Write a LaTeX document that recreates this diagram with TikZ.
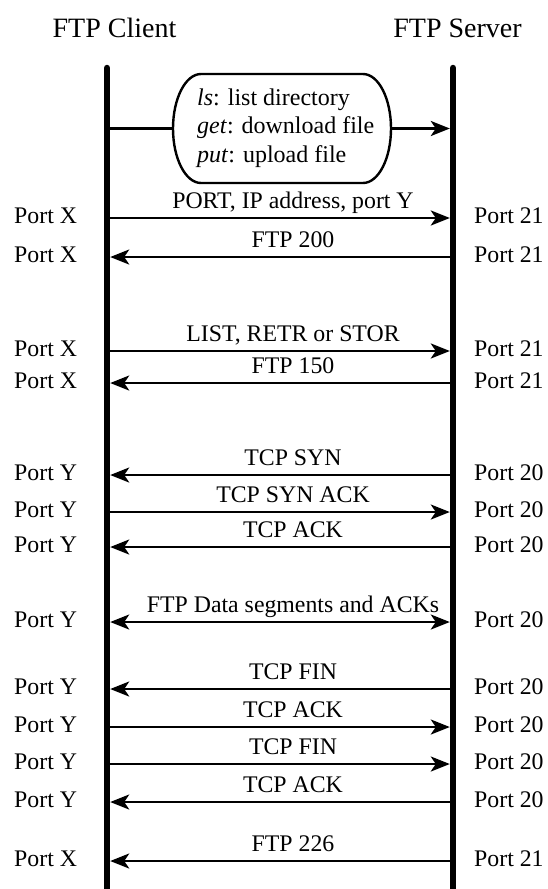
\documentclass[tikz,border=0pt]{standalone}
\usepackage{fontspec}
\setmainfont{Liberation Serif}
\usetikzlibrary{arrows.meta}

% one message row: name, y, arrow direction, label, client port, server port
\newcommand\msgrow[6]{%
  \coordinate (#1c) at (107,#2);
  \coordinate (#1s) at (453,#2);
  \draw[msgline,#3] (#1c) -- (#1s);
  \node[msglabel] (#1m) at (293,#2-10) {#4};
  \node[portlabel,anchor=base west] (#1l) at (14,#2+5.5) {#5};
  \node[portlabel,anchor=base west] (#1r) at (474,#2+5.5) {#6};
}

\begin{document}
\begin{tikzpicture}[x=1pt,y=-1pt,
  >={Stealth[length=19pt,width=15pt,inset=5pt]},
  lifeline/.style={line width=6.5pt,line cap=round},
  msgline/.style={line width=2.6pt,shorten >=3.2pt,shorten <=3.2pt},
  msglabel/.style={anchor=base,inner sep=0pt,font=\fontsize{23.8}{28}\selectfont},
  portlabel/.style={inner sep=0pt,font=\fontsize{23.8}{28}\selectfont},
  title/.style={anchor=base,inner sep=0pt,font=\fontsize{28}{32}\selectfont},
  boxline/.style={line width=2.4pt},
  cmdtext/.style={inner sep=0pt,align=left,font=\fontsize{24}{28.5}\selectfont}]
\fill[white] (0,0) rectangle (547,889);
\useasboundingbox (0,0) rectangle (547,889);
\clip (0,0) rectangle (547,889);

% titles
\node[title] (client) at (114.5,37) {FTP Client};
\node[title] (server) at (457.5,37) {FTP Server};

% lifelines
\coordinate (cTop) at (107,68);
\coordinate (cBot) at (107,900);
\coordinate (sTop) at (453,68);
\coordinate (sBot) at (453,900);
\draw[lifeline] (cTop) -- (cBot);
\draw[lifeline] (sTop) -- (sBot);

% user command box with half-ellipse ends
\node[cmdtext,anchor=north west] (cmd) at (197,88.5) {\textit{ls}: list directory\\\textit{get}: download file\\\textit{put}: upload file};
\draw[boxline] (201,74) -- (363,74)
  arc[start angle=-90,end angle=90,x radius=28,y radius=54.5]
  -- (201,183)
  arc[start angle=90,end angle=270,x radius=28,y radius=54.5] -- cycle;
\coordinate (cmdw) at (173,128.5);
\coordinate (cmde) at (391,128.5);
\coordinate (cmdc) at (107,128.5);
\coordinate (cmds) at (453,128.5);
\draw[line width=2.6pt,shorten <=3.2pt] (cmdc) -- (cmdw);
\draw[msgline,->,shorten <=0pt] (cmde) -- (cmds);

% control connection
\msgrow{port}{218}{->}{PORT, IP address, port Y}{Port X}{Port 21}
\msgrow{ok}{257}{<-}{FTP 200}{Port X}{Port 21}
\msgrow{list}{351}{->}{LIST, RETR or STOR}{Port X}{Port 21}
\msgrow{open}{383}{<-}{FTP 150}{Port X}{Port 21}

% data connection setup
\msgrow{syn}{475}{<-}{TCP SYN}{Port Y}{Port 20}
\msgrow{synack}{512}{->}{TCP SYN ACK}{Port Y}{Port 20}
\msgrow{ack}{547}{<-}{TCP ACK}{Port Y}{Port 20}

% transfer
\msgrow{data}{622}{<->}{FTP Data segments and ACKs}{Port Y}{Port 20}

% data connection teardown
\msgrow{finA}{689}{<-}{TCP FIN}{Port Y}{Port 20}
\msgrow{ackA}{727}{->}{TCP ACK}{Port Y}{Port 20}
\msgrow{finB}{764}{->}{TCP FIN}{Port Y}{Port 20}
\msgrow{ackB}{802}{<-}{TCP ACK}{Port Y}{Port 20}

% transfer complete
\msgrow{done}{861}{<-}{FTP 226}{Port X}{Port 21}
\end{tikzpicture}
\end{document}
